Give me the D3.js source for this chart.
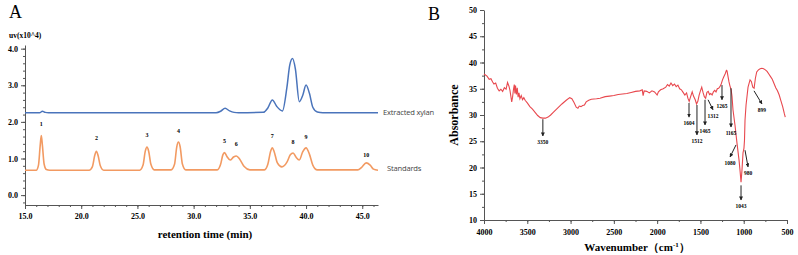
<!DOCTYPE html>
<html>
<head>
<meta charset="utf-8">
<style>
  body { margin: 0; background: #fff; }
  .tick text { font-family: "Liberation Serif", "DejaVu Serif", serif; font-weight: bold; }
  .domain, .tick line { stroke: #555; }
</style>
</head>
<body>
<div id="chart"></div>
<script src="https://cdn.jsdelivr.net/npm/d3@7"></script>
<script>
// ---------- Panel A: HPLC chromatogram ----------
var xylanTime = [15.0, 16.3, 16.55, 16.8, 17.1, 32.0, 32.4, 32.8, 33.2, 33.6, 34.0, 36.2, 36.6, 37.0, 37.4, 37.9, 38.3, 38.55, 38.8, 39.05, 39.4, 39.7, 40.0, 40.3, 40.6, 41.0, 41.5, 46.4];
var xylanUV   = [2.25, 2.25, 2.29, 2.26, 2.25, 2.25, 2.29, 2.37, 2.30, 2.26, 2.25, 2.26, 2.38, 2.60, 2.42, 2.30, 2.95, 3.55, 3.73, 3.45, 2.55, 2.72, 3.01, 2.78, 2.40, 2.27, 2.25, 2.25];

var stdTime = [15.0, 16.0, 16.2, 16.35, 16.45, 16.55, 16.7, 16.9, 17.2,
               20.7, 21.0, 21.2, 21.35, 21.5, 21.7, 22.0,
               25.2, 25.5, 25.7, 25.85, 26.0, 26.2, 26.5,
               28.0, 28.3, 28.5, 28.65, 28.8, 29.0, 29.3,
               32.1, 32.4, 32.6, 32.75, 32.95, 33.25, 33.55, 33.8, 34.1, 34.5, 35.0,
               36.3, 36.6, 36.85, 37.0, 37.15, 37.45, 37.85, 38.3, 38.6, 38.85, 39.1, 39.4, 39.7, 40.0, 40.3, 40.6, 41.0,
               44.6, 44.95, 45.35, 45.7, 46.0, 46.4];
var stdUV   = [0.68, 0.68, 0.82, 1.35, 1.63, 1.35, 0.85, 0.70, 0.68,
               0.68, 0.78, 1.08, 1.20, 1.08, 0.80, 0.68,
               0.68, 0.82, 1.20, 1.31, 1.20, 0.84, 0.69,
               0.69, 0.84, 1.32, 1.45, 1.32, 0.85, 0.69,
               0.69, 0.84, 1.10, 1.16, 1.06, 0.96, 1.04, 1.07, 0.98, 0.78, 0.69,
               0.69, 0.84, 1.20, 1.29, 1.20, 0.88, 0.77, 0.90, 1.10, 1.15, 1.04, 0.96, 1.18, 1.29, 1.12, 0.82, 0.69,
               0.69, 0.76, 0.88, 0.82, 0.71, 0.68];

var peakLabels = ["1", "2", "3", "4", "5", "6", "7", "8", "9", "10"];
var peakTime   = [16.45, 21.35, 25.85, 28.65, 32.75, 33.8, 37.0, 38.85, 40.0, 45.35];
var peakLabelUV = [1.88, 1.50, 1.58, 1.70, 1.42, 1.34, 1.56, 1.40, 1.52, 1.04];

var axisATicksX = [15, 20, 25, 30, 35, 40, 45];
var axisATicksY = [0, 1, 2, 3, 4];

// ---------- Panel B: FTIR spectrum ----------
var ftir = [
  [4000, 37.8], [3965, 37.4], [3940, 36.8], [3920, 36.9], [3900, 36.3], [3885, 35.9], [3865, 36.1], [3845, 35.1],
  [3825, 34.6], [3805, 34.9], [3785, 34.5], [3765, 35.2], [3745, 34.9], [3728, 36.2], [3712, 35.5], [3700, 34.7],
  [3690, 33.6], [3680, 32.5], [3670, 33.4], [3660, 34.8], [3650, 35.8], [3643, 34.1], [3636, 35.6], [3626, 33.9],
  [3616, 35.2], [3606, 33.4], [3596, 34.2], [3585, 33.1], [3570, 33.7], [3555, 32.9], [3540, 33.3], [3525, 32.8],
  [3500, 32.3], [3470, 31.6], [3440, 31.1], [3410, 30.5], [3380, 29.9], [3350, 29.5], [3320, 29.4], [3290, 29.4],
  [3260, 29.6], [3230, 30.0], [3200, 30.5], [3150, 31.3], [3100, 32.1], [3050, 32.8], [3010, 33.3], [2985, 33.1],
  [2960, 32.4], [2935, 31.5], [2915, 31.3], [2900, 31.7], [2880, 31.6], [2860, 31.8], [2840, 31.9], [2820, 32.5],
  [2790, 32.8], [2760, 33.0], [2700, 33.1], [2660, 33.2], [2600, 33.5], [2550, 33.6], [2500, 33.7], [2450, 33.9],
  [2400, 34.0], [2350, 34.1], [2300, 34.3], [2250, 34.5], [2200, 34.6], [2172, 34.8], [2162, 33.7], [2150, 34.6],
  [2120, 34.5], [2090, 34.2], [2060, 34.6], [2030, 34.4], [2000, 33.8], [1985, 34.4], [1960, 34.8], [1930, 35.0],
  [1900, 35.3], [1880, 35.8], [1860, 35.5], [1840, 36.1], [1820, 35.6], [1800, 35.9], [1780, 35.4], [1760, 35.7],
  [1740, 35.0], [1720, 34.8], [1700, 34.3], [1680, 33.8], [1660, 34.2], [1645, 33.2], [1630, 32.6], [1615, 33.4],
  [1595, 34.4], [1580, 33.6], [1560, 32.9], [1545, 32.1], [1530, 32.6], [1515, 33.8], [1500, 34.6], [1485, 35.3],
  [1470, 34.3], [1455, 33.5], [1440, 33.2], [1425, 34.3], [1410, 34.5], [1395, 33.9], [1380, 34.1], [1365, 33.8],
  [1350, 34.4], [1335, 34.7], [1320, 34.4], [1305, 35.0], [1290, 35.1], [1275, 35.4], [1260, 35.9], [1245, 36.7],
  [1230, 37.3], [1215, 37.8], [1200, 38.5], [1193, 38.4], [1180, 37.2], [1170, 36.3], [1160, 35.6], [1145, 34.8],
  [1135, 33.5], [1124, 31.0], [1101, 28.1], [1078, 24.7], [1054, 21.4], [1043, 19.5], [1031, 17.2], [1020, 19.5],
  [1008, 22.8], [997, 23.7], [991, 25.2], [985, 29.0], [973, 31.9], [950, 35.3], [927, 36.7], [912, 36.4],
  [895, 35.3], [880, 35.1], [865, 37.0], [850, 38.2], [830, 38.6], [810, 38.8], [790, 38.9], [770, 38.8],
  [750, 38.6], [730, 38.3], [710, 37.8], [690, 37.3], [670, 36.8], [650, 36.0], [630, 35.2], [610, 34.6],
  [590, 33.8], [570, 32.7], [550, 31.6], [530, 30.2], [520, 29.6]
];

// peak annotations: label, arrow start [wn, abs], arrow end [wn, abs]
var ftirLabels = ["3350", "1604", "1512", "1465", "1312", "1265", "1165", "1080", "980", "1043", "899"];
var ftirFrom = [[3320, 29.2], [1632, 32.3], [1540, 31.9], [1447, 32.9], [1412, 32.9], [1251, 35.7], [1147, 35.1], [1089, 24.3], [985, 23.3], [1031, 16.6], [881, 34.6]];
var ftirTo   = [[3320, 26.0], [1632, 29.6], [1540, 26.2], [1447, 28.1], [1355, 31.0], [1251, 32.9], [1147, 27.7], [1158, 22.0], [950, 20.1], [1031, 13.8], [789, 32.1]];

var axisBTicksX = [4000, 3500, 3000, 2500, 2000, 1500, 1000, 500];
var axisBTicksY = [10, 15, 20, 25, 30, 35, 40, 45, 50];

var W = 798, H = 255;
var svg = d3.select("#chart").append("svg")
    .attr("width", W).attr("height", H);

var serif = "'Liberation Serif', 'DejaVu Serif', serif";

// ================= Panel A =================
var xA = d3.scaleLinear().domain([15, 46.4]).range([25, 378]);
var yA = d3.scaleLinear().domain([-0.27, 4.1]).range([205, 45]);

svg.append("text").attr("x", 9).attr("y", 18)
    .style("font-family", serif).style("font-size", "18px").text("A");

svg.append("text").attr("x", 9).attr("y", 38)
    .style("font-family", serif).style("font-size", "7.5px").style("font-weight", "bold")
    .text("uv(x10^4)");

// minor ticks
svg.append("g").attr("transform", "translate(0,205)")
    .call(d3.axisBottom(xA).tickValues(d3.range(15, 47, 1)).tickSize(2).tickFormat(""))
    .call(g => g.select(".domain").remove());
svg.append("g").attr("transform", "translate(25,0)")
    .call(d3.axisLeft(yA).tickValues(d3.range(-0.2, 4.1, 0.2)).tickSize(2).tickFormat(""))
    .call(g => g.select(".domain").remove());

var axA = svg.append("g").attr("transform", "translate(0,205)")
    .call(d3.axisBottom(xA).tickValues(axisATicksX).tickSize(4).tickSizeOuter(0).tickFormat(d3.format(".1f")));
axA.selectAll("text").style("font-size", "8px").attr("dy", "0.9em");
var ayA = svg.append("g").attr("transform", "translate(25,0)")
    .call(d3.axisLeft(yA).tickValues(axisATicksY).tickSize(4).tickSizeOuter(0).tickFormat(d3.format(".1f")));
ayA.selectAll("text").style("font-size", "8px");

svg.append("text").attr("x", 205).attr("y", 238).attr("text-anchor", "middle")
    .style("font-family", serif).style("font-size", "11px").style("font-weight", "bold")
    .text("retention time (min)");

var lineA = d3.line()
    .x(d => xA(d[0])).y(d => yA(d[1]))
    .curve(d3.curveMonotoneX);

svg.append("path")
    .datum(xylanTime.map((t, i) => [t, xylanUV[i]]))
    .attr("d", lineA).attr("fill", "none")
    .attr("stroke", "#4a74bb").attr("stroke-width", 1.5);

svg.append("path")
    .datum(stdTime.map((t, i) => [t, stdUV[i]]))
    .attr("d", lineA).attr("fill", "none")
    .attr("stroke", "#f29a62").attr("stroke-width", 1.6);

svg.selectAll(".plab").data(peakLabels).enter().append("text")
    .attr("x", (d, i) => xA(peakTime[i]))
    .attr("y", (d, i) => yA(peakLabelUV[i]))
    .attr("text-anchor", "middle")
    .style("font-family", serif).style("font-size", "6px").style("font-weight", "bold")
    .text(d => d);

svg.append("text").attr("x", 383).attr("y", 115)
    .style("font-family", "'Open Sans', sans-serif").style("font-size", "7.6px").style("fill", "#444")
    .style("letter-spacing", "-0.2px")
    .text("Extracted xylan");
svg.append("text").attr("x", 387).attr("y", 171)
    .style("font-family", "'Open Sans', sans-serif").style("font-size", "7.6px").style("fill", "#444")
    .style("letter-spacing", "-0.2px")
    .text("Standards");

// ================= Panel B =================
var xB = d3.scaleLinear().domain([4000, 500]).range([484, 787]);
var yB = d3.scaleLinear().domain([10, 50]).range([220, 10]);

svg.append("text").attr("x", 428).attr("y", 20)
    .style("font-family", serif).style("font-size", "18px").text("B");

svg.append("g").attr("transform", "translate(0,220)")
    .call(d3.axisBottom(xB).tickValues(d3.range(4000, 499, -250)).tickSize(2).tickFormat(""))
    .call(g => g.select(".domain").remove());
svg.append("g").attr("transform", "translate(484,0)")
    .call(d3.axisLeft(yB).tickValues(d3.range(10, 50.1, 2.5)).tickSize(2).tickFormat(""))
    .call(g => g.select(".domain").remove());

var axB = svg.append("g").attr("transform", "translate(0,220)")
    .call(d3.axisBottom(xB).tickValues(axisBTicksX).tickSize(4).tickSizeOuter(0).tickFormat(d3.format("d")));
axB.selectAll("text").style("font-size", "8px").attr("dy", "0.95em");
var ayB = svg.append("g").attr("transform", "translate(484,0)")
    .call(d3.axisLeft(yB).tickValues(axisBTicksY).tickSize(4).tickSizeOuter(0).tickFormat(d3.format("d")));
ayB.selectAll("text").style("font-size", "8px");

svg.append("text")
    .attr("transform", "translate(458,115) rotate(-90)")
    .attr("text-anchor", "middle")
    .style("font-family", serif).style("font-size", "12px").style("font-weight", "bold")
    .text("Absorbance");

var xt = svg.append("text").attr("x", 637).attr("y", 251).attr("text-anchor", "middle")
    .style("font-family", serif).style("font-size", "11px").style("font-weight", "bold");
xt.append("tspan").text("Wavenumber\uff08cm");
xt.append("tspan").attr("dy", -4).style("font-size", "7px").text("-1");
xt.append("tspan").attr("dy", 4).text("\uff09");

var lineB = d3.line().x(d => xB(d[0])).y(d => yB(d[1]));
svg.append("path").datum(ftir)
    .attr("d", lineB).attr("fill", "none")
    .attr("stroke", "#e8484e").attr("stroke-width", 1.1);

svg.append("defs").append("marker")
    .attr("id", "arr").attr("viewBox", "0 0 10 10")
    .attr("refX", 9).attr("refY", 5)
    .attr("markerWidth", 4).attr("markerHeight", 4)
    .attr("orient", "auto")
    .append("path").attr("d", "M0,0 L10,5 L0,10 z").attr("fill", "#222");

var ann = svg.append("g");
ann.selectAll("line").data(ftirLabels).enter().append("line")
    .attr("x1", (d, i) => xB(ftirFrom[i][0])).attr("y1", (d, i) => yB(ftirFrom[i][1]))
    .attr("x2", (d, i) => xB(ftirTo[i][0])).attr("y2", (d, i) => yB(ftirTo[i][1]))
    .attr("stroke", "#222").attr("stroke-width", 1)
    .attr("marker-end", "url(#arr)");
ann.selectAll("text").data(ftirLabels).enter().append("text")
    .attr("x", (d, i) => xB(ftirTo[i][0]))
    .attr("y", (d, i) => yB(ftirTo[i][1]) + 8)
    .attr("text-anchor", "middle")
    .style("font-family", serif).style("font-size", "5.5px").style("font-weight", "bold")
    .text(d => d);
</script>
</body>
</html>
